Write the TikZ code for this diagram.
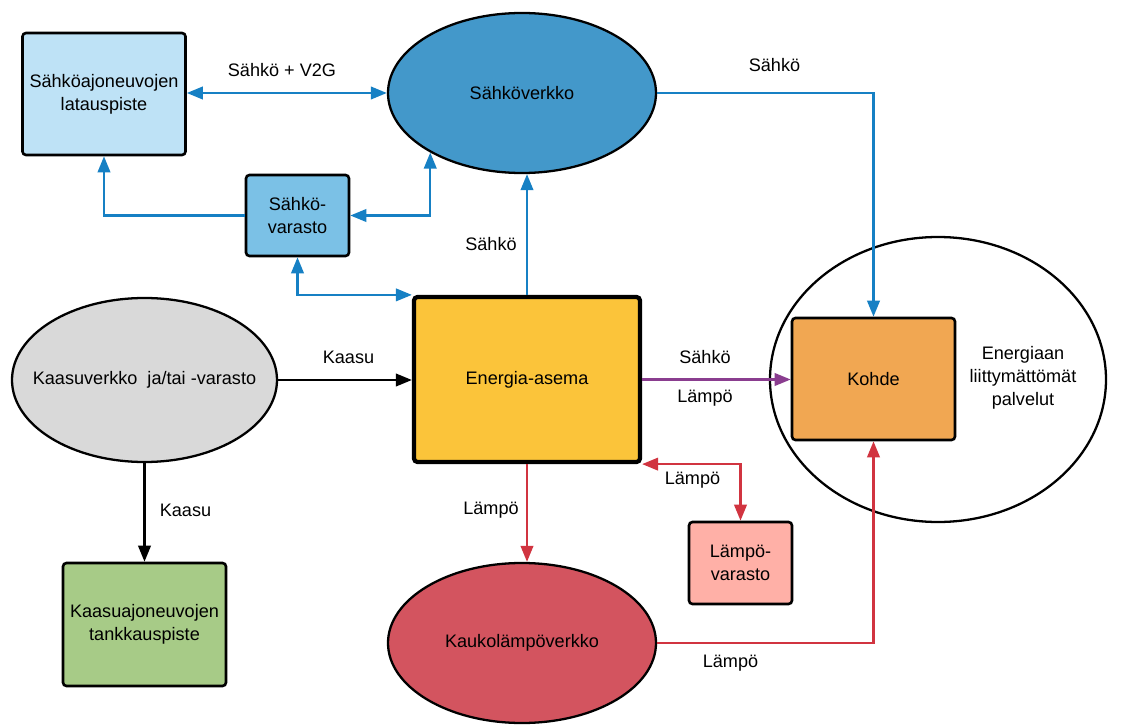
\documentclass[tikz,border=0pt]{standalone}
\usepackage{fontspec}
\setmainfont{Liberation Sans}
\usetikzlibrary{arrows.meta,shapes.geometric,calc}
\definecolor{evcol}{RGB}{190,226,246}
\definecolor{gridcol}{RGB}{67,152,202}
\definecolor{batcol}{RGB}{123,193,230}
\definecolor{stationcol}{RGB}{251,196,58}
\definecolor{gascol}{RGB}{217,217,217}
\definecolor{cngcol}{RGB}{167,203,135}
\definecolor{dhcol}{RGB}{211,84,95}
\definecolor{heatstorecol}{RGB}{255,176,167}
\definecolor{sitecol}{RGB}{241,167,82}
\definecolor{elline}{RGB}{22,128,196}
\definecolor{heatline}{RGB}{209,52,64}
\definecolor{mixline}{RGB}{138,61,143}

\begin{document}
\begin{tikzpicture}[
  >={Triangle[length=0.32cm,width=0.25cm]},
  every node/.style={font=\fontsize{10.3}{13}\selectfont},
  box/.style={draw,rounded corners=2pt,line width=1.5pt,align=center,inner sep=0pt},
  oval/.style={draw,ellipse,line width=1.3pt,align=center,inner sep=0pt},
  flow/.style={line width=1.3pt},
  lbl/.style={inner sep=1pt}
]
\useasboundingbox (0,0) rectangle (22.54,14.48);
% site area
\node[oval,fill=white,minimum width=6.72cm,minimum height=5.7cm] (area) at (18.76,6.89) {};
\node[align=center] (extra) at (20.46,6.92) {Energiaan\\liittymättömät\\palvelut};
% electricity side
\node[box,fill=evcol,minimum width=3.26cm,minimum height=2.44cm] (charge) at (2.08,12.60) {Sähköajoneuvojen\\latauspiste};
\node[oval,fill=gridcol,minimum width=5.36cm,minimum height=3.2cm] (grid) at (10.44,12.62) {Sähköverkko};
\node[box,fill=batcol,minimum width=2.06cm,minimum height=1.62cm] (battery) at (5.95,10.17) {Sähkö-\\varasto};
% station
\node[box,fill=stationcol,line width=2.4pt,minimum width=4.52cm,minimum height=3.3cm] (station) at (10.54,6.89) {Energia-asema};
\node[box,fill=sitecol,minimum width=3.26cm,minimum height=2.44cm] (site) at (17.47,6.90) {Kohde};
% gas side
\node[oval,fill=gascol,minimum width=5.3cm,minimum height=3.28cm] (gas) at (2.89,6.88) {\makebox[0pt]{Kaasuverkko \ ja/tai -varasto}};
\node[box,fill=cngcol,minimum width=3.26cm,minimum height=2.46cm] (cng) at (2.89,1.99) {Kaasuajoneuvojen\\tankkauspiste};
% heat side
\node[oval,fill=dhcol,minimum width=5.36cm,minimum height=3.2cm] (dh) at (10.44,1.62) {Kaukolämpöverkko};
\node[box,fill=heatstorecol,minimum width=2.06cm,minimum height=1.64cm] (heatstore) at (14.81,3.22) {Lämpö-\\varasto};

% electricity flows
\draw[flow,elline,<->] (charge.east |- grid.west) -- (grid.west);
\draw[flow,elline,->] (grid.east) -| (site.north);
\draw[flow,elline,->] (battery.west) -| (charge.south);
\draw[flow,elline,<->] (battery.east) -| (grid.213);
\draw[flow,elline,<->] (battery.south) |- (station.north west);
\draw[flow,elline,->] (station.north) -- (station.north |- grid.south);
% gas flows
\draw[flow,black,->] (gas.east) -- (gas.east -| station.west);
\draw[flow,black,->] (gas.south) -- (cng.north);
% heat flows
\draw[flow,mixline,->] (station.east) -- (station.east -| site.west);
\draw[flow,heatline,->] (station.south) -- (station.south |- dh.north);
\draw[flow,heatline,<->] (station.south east) -| (heatstore.north);
\draw[flow,heatline,->] (dh.east) -| (site.south);

% flow labels
\node[lbl] (lv2g) at (5.64,13.08) {Sähkö + V2G};
\node[lbl] (lsite) at (15.49,13.18) {Sähkö};
\node[lbl] (lup) at (9.82,9.60) {Sähkö};
\node[lbl] (lgas) at (6.97,7.33) {Kaasu};
\node[lbl] (lcng) at (3.71,4.28) {Kaasu};
\node[lbl] (lel) at (14.10,7.34) {Sähkö};
\node[lbl] (lheat) at (14.10,6.52) {Lämpö};
\node[lbl] (ldown) at (9.82,4.28) {Lämpö};
\node[lbl] (lstore) at (13.85,4.88) {Lämpö};
\node[lbl] (ldh) at (14.61,1.22) {Lämpö};
\end{tikzpicture}
\end{document}
